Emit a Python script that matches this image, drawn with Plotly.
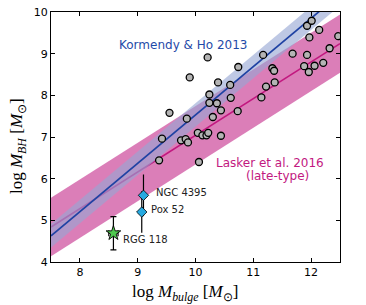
import plotly.graph_objects as go

# ---- sample galaxies (log M_bulge, log M_BH) ----
gal_x = [9.55, 9.42, 9.75, 9.37, 10.06, 9.83, 9.87, 9.85, 10.04, 10.12, 10.19, 10.22,
         10.44, 10.30, 10.44, 10.73, 10.24, 10.24, 10.37, 10.61, 10.60, 10.39, 9.90,
         10.21, 10.74, 11.14, 11.22, 11.37, 11.17, 11.33, 11.36, 11.68, 11.93, 11.88,
         11.96, 12.06, 12.21, 12.32, 11.97, 11.93, 12.01, 12.14, 12.47]
gal_y = [7.58, 6.96, 6.92, 6.44, 6.40, 6.95, 6.87, 7.44, 7.10, 7.04, 7.04, 7.10,
         7.03, 7.48, 7.64, 7.62, 8.02, 7.82, 7.81, 7.94, 8.25, 8.31, 8.43,
         8.91, 8.68, 7.95, 8.21, 8.31, 8.97, 8.65, 8.59, 9.00, 8.97, 8.70,
         8.56, 8.71, 8.78, 9.13, 9.39, 9.67, 9.79, 9.57, 9.42]

# ---- dwarf objects ----
dw_names = ["NGC 4395", "Pox 52"]
dw_x = [9.10, 9.07]
dw_y = [5.60, 5.20]
dw_yerr = [0.50, 0.50]

rgg_name = "RGG 118"
rgg_x = [8.58]
rgg_y = [4.69]
rgg_xerr = [0.08]
rgg_yerr = [0.40]

# ---- scaling relations (values at the plot edges) ----
rel_x = [7.5, 12.5]
kh_y = [4.63, 10.43]
kh_lo = [4.35, 10.15]
kh_hi = [4.91, 10.71]
las_y = [4.84, 9.24]
las_lo = [4.14, 8.54]
las_hi = [5.54, 9.94]

x_ticks = [8, 9, 10, 11, 12]
y_ticks = [4, 5, 6, 7, 8, 9, 10]

PINK_FILL = "rgba(190,20,125,0.55)"
PINK_LINE = "#c2187f"
BLUE_FILL = "rgba(150,166,211,0.62)"
BLUE_LINE = "#1f42a3"

fig = go.Figure()
# Lasker band + line
fig.add_trace(go.Scatter(x=rel_x, y=las_lo, mode="lines", line=dict(width=0),
                         showlegend=False, hoverinfo="skip"))
fig.add_trace(go.Scatter(x=rel_x, y=las_hi, mode="lines", line=dict(width=0),
                         fill="tonexty", fillcolor=PINK_FILL, showlegend=False, hoverinfo="skip"))
fig.add_trace(go.Scatter(x=rel_x, y=las_y, mode="lines", line=dict(color=PINK_LINE, width=1.6),
                         showlegend=False))
# Kormendy & Ho band + line
fig.add_trace(go.Scatter(x=rel_x, y=kh_lo, mode="lines", line=dict(width=0),
                         showlegend=False, hoverinfo="skip"))
fig.add_trace(go.Scatter(x=rel_x, y=kh_hi, mode="lines", line=dict(width=0),
                         fill="tonexty", fillcolor=BLUE_FILL, showlegend=False, hoverinfo="skip"))
fig.add_trace(go.Scatter(x=rel_x, y=kh_y, mode="lines", line=dict(color=BLUE_LINE, width=1.7),
                         showlegend=False))
# galaxies
fig.add_trace(go.Scatter(x=gal_x, y=gal_y, mode="markers", showlegend=False,
                         marker=dict(size=7, color="#b4b4b4", line=dict(color="black", width=1.3))))
# dwarfs
fig.add_trace(go.Scatter(x=dw_x, y=dw_y, mode="markers", showlegend=False,
                         error_y=dict(type="data", array=dw_yerr, color="black", thickness=1.2, width=0),
                         marker=dict(symbol="diamond", size=8, color="#26a9e0",
                                     line=dict(color="black", width=0.8))))
fig.add_trace(go.Scatter(x=rgg_x, y=rgg_y, mode="markers", showlegend=False,
                         error_y=dict(type="data", array=rgg_yerr, color="black", thickness=1.2, width=3),
                         error_x=dict(type="data", array=rgg_xerr, color="black", thickness=1.2, width=3),
                         marker=dict(symbol="star", size=11, color="#4ec94e",
                                     line=dict(color="black", width=0.9))))

# labels
lab_font = dict(family="DejaVu Sans", size=10, color="#222222")
fig.add_annotation(x=dw_x[0], y=dw_y[0], text=dw_names[0], showarrow=False, xanchor="left",
                   xshift=11, yshift=3, font=lab_font)
fig.add_annotation(x=dw_x[1], y=dw_y[1], text=dw_names[1], showarrow=False, xanchor="left",
                   xshift=7, yshift=3, font=lab_font)
fig.add_annotation(x=rgg_x[0], y=rgg_y[0], text=rgg_name, showarrow=False, xanchor="left",
                   xshift=8, yshift=-6, font=lab_font)
fig.add_annotation(x=9.79, y=9.21, text="Kormendy & Ho 2013", showarrow=False,
                   font=dict(family="DejaVu Sans", size=12, color="#1f4aa8"))
fig.add_annotation(x=11.29, y=6.37, text="Lasker et al. 2016", showarrow=False,
                   font=dict(family="DejaVu Sans", size=12, color="#c2187f"))
fig.add_annotation(x=11.42, y=6.06, text="(late-type)", showarrow=False,
                   font=dict(family="DejaVu Sans", size=12, color="#c2187f"))

# axis titles
title_font = dict(family="Liberation Serif", size=17, color="black")
fig.add_annotation(xref="paper", yref="paper", x=0.464, y=-0.124, yanchor="middle",
                   text="log <i>M</i><sub><i>bulge</i></sub> [<i>M</i><sub>⊙</sub>]",
                   showarrow=False, font=title_font)
fig.add_annotation(xref="paper", yref="paper", x=-0.114, y=0.464, xanchor="center", yanchor="middle",
                   textangle=-90,
                   text="log <i>M</i><sub><i>BH</i></sub> [<i>M</i><sub>⊙</sub>]",
                   showarrow=False, font=title_font)

axis_common = dict(showgrid=False, zeroline=False, showline=True, linecolor="black", linewidth=1,
                   mirror="ticks", ticks="inside", ticklen=4, tickcolor="black", tickwidth=1,
                   automargin=False,
                   tickfont=dict(family="DejaVu Sans", size=11, color="black"))
fig.update_xaxes(range=[7.5, 12.5], tickvals=x_ticks, ticktext=[str(v) for v in x_ticks],
                 **axis_common)
fig.update_yaxes(range=[4, 10], tickvals=y_ticks, ticktext=[str(v) for v in y_ticks],
                 **axis_common)
fig.update_layout(width=366, height=305, margin=dict(l=51, r=26, t=12, b=43, autoexpand=False),
                  plot_bgcolor="white", paper_bgcolor="white", showlegend=False)
fig.write_html("out.html", config={"displayModeBar": False},
               post_script="document.body.style.margin='0';document.body.style.overflow='hidden';")
